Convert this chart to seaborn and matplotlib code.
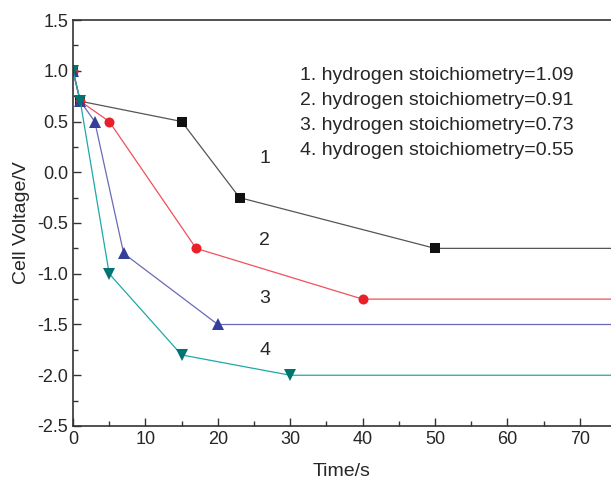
import numpy as np
import pandas as pd
import matplotlib
matplotlib.use('Agg')
import matplotlib.pyplot as plt
import seaborn as sns
from matplotlib.ticker import MultipleLocator, FormatStrFormatter

# data (last point = flat line to the edge, no marker)
t1 = [0, 1, 15, 23, 50, 90]
v1 = [1.0, 0.7, 0.5, -0.25, -0.75, -0.75]
t2 = [0, 1, 5, 17, 40, 90]
v2 = [1.0, 0.7, 0.5, -0.75, -1.25, -1.25]
t3 = [0, 1, 3, 7, 20, 90]
v3 = [1.0, 0.7, 0.5, -0.8, -1.5, -1.5]
t4 = [0, 1, 5, 15, 30, 90]
v4 = [1.0, 0.7, -1.0, -1.8, -2.0, -2.0]

labels = ['1', '2', '3', '4']
legend_text = ['1. hydrogen stoichiometry=1.09',
               '2. hydrogen stoichiometry=0.91',
               '3. hydrogen stoichiometry=0.73',
               '4. hydrogen stoichiometry=0.55']
line_colors = ['#555555', '#f0505c', '#6a6ab8', '#20a8a8']
marker_colors = ['#111111', '#e8202a', '#343f99', '#007470']
markers = ['s', 'o', '^', 'v']
msizes = [6.5, 7.2, 8.6, 8.6]

sns.set_style('ticks')
plt.rcParams['font.family'] = ['Liberation Sans', 'DejaVu Sans']

fig = plt.figure(figsize=(6.11, 4.82), dpi=100)
ax = fig.add_axes([0.1195, 0.1162, 0.8805, 0.8423])

series = [(t1, v1), (t2, v2), (t3, v3), (t4, v4)]
for (t, v), lc, mc, m, ms in zip(series, line_colors, marker_colors, markers, msizes):
    df = pd.DataFrame({'t': t, 'v': v})
    sns.lineplot(data=df, x='t', y='v', ax=ax, color=lc, lw=0.9, marker=m,
                 markersize=ms, markerfacecolor=mc, markeredgewidth=0,
                 markevery=list(range(len(t) - 1)), sort=False, estimator=None)

# curve numbers
num_pos = [(26.5, 0.14), (26.5, -0.67), (26.5, -1.24), (26.5, -1.76)]
for lab, (x, y) in zip(labels, num_pos):
    ax.text(x, y, lab, fontsize=14, ha='center', va='center')

for i, s in enumerate(legend_text):
    ax.text(31.3, 0.958 - i * 0.249, s, fontsize=14, ha='left', va='center')

ax.set_xlim(0, 74.3)
ax.set_ylim(-2.5, 1.5)
ax.xaxis.set_major_locator(MultipleLocator(10))
ax.xaxis.set_minor_locator(MultipleLocator(5))
ax.yaxis.set_major_locator(MultipleLocator(0.5))
ax.yaxis.set_minor_locator(MultipleLocator(0.25))
ax.yaxis.set_major_formatter(FormatStrFormatter('%.1f'))
ax.tick_params(which='both', direction='in', labelsize=13, width=1,
               color='#333333', top=False, right=False)
ax.tick_params(which='major', length=6)
ax.tick_params(which='minor', length=3.5)
ax.set_xlabel('Time/s', fontsize=14, labelpad=11)
ax.set_ylabel('Cell Voltage/V', fontsize=14, labelpad=5)
for sp in ['left', 'bottom', 'top']:
    ax.spines[sp].set_linewidth(1.2)
    ax.spines[sp].set_color('#333333')
ax.spines['right'].set_visible(False)

fig.savefig('out.png', dpi=100)
